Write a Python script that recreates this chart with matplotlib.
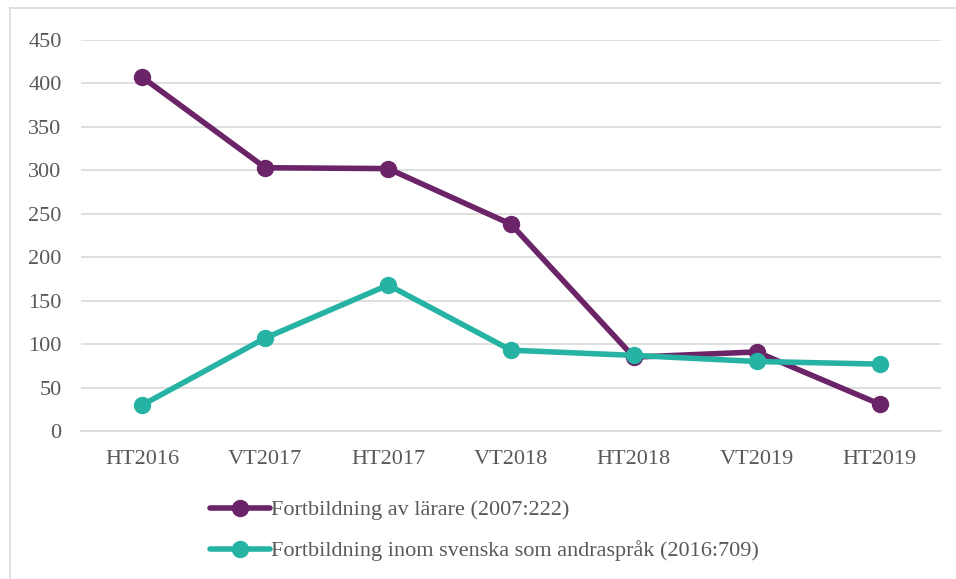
import matplotlib
matplotlib.use("Agg")
import matplotlib.pyplot as plt
from matplotlib.lines import Line2D

categories = ["HT2016", "VT2017", "HT2017", "VT2018", "HT2018", "VT2019", "HT2019"]
larare = [407, 303, 302, 238, 85, 91, 31]
sva = [30, 107, 168, 93, 87, 80, 77]
series_names = ["Fortbildning av lärare (2007:222)",
                "Fortbildning inom svenska som andraspråk (2016:709)"]
yticks = [0, 50, 100, 150, 200, 250, 300, 350, 400, 450]

plt.rcParams['font.family'] = ['Liberation Serif', 'DejaVu Serif']
W, H = 956, 579
fig = plt.figure(figsize=(W/100, H/100), dpi=100)
ax = fig.add_axes([81/W, 1 - 431/H, 860/W, 391/H])

purple = "#6B2468"
teal = "#26B3A4"
txt = "#595959"
fs = 16

x = list(range(len(categories)))
l1, = ax.plot(x, larare, color=purple, lw=4, marker='o', ms=11.5, solid_capstyle='round', zorder=3)
l2, = ax.plot(x, sva, color=teal, lw=4, marker='o', ms=11.5, solid_capstyle='round', zorder=3)

ax.set_xlim(-0.5, len(categories) - 0.5)
ax.set_ylim(0, 450)
ax.set_yticks(yticks)
ax.set_xticks(x)
ax.set_xticklabels(categories)
ax.yaxis.grid(True, color="#D9D9D9", lw=1.2)
ax.set_axisbelow(True)
for s in ["top", "right", "left"]:
    ax.spines[s].set_visible(False)
ax.spines["bottom"].set_color("#D9D9D9")
ax.spines["bottom"].set_linewidth(1.2)
ax.tick_params(axis='both', length=0, colors=txt, labelsize=fs)
ax.tick_params(axis='y', pad=14)
ax.tick_params(axis='x', pad=14)

# legend entries, stacked
for i, (ln, name) in enumerate(zip([l1, l2], series_names)):
    fig.legend([ln], [name], loc='center left',
               bbox_to_anchor=(210/W, 1 - [510, 551][i]/H),
               frameon=False, fontsize=fs, handlelength=2.7, handletextpad=0.05,
               labelcolor=txt, borderaxespad=0, borderpad=0)

# outer chart border (left and top visible)
fig.add_artist(Line2D([10/W, 10/W], [1 - 8/H, 0], color="#D9D9D9", lw=1.2, transform=fig.transFigure))
fig.add_artist(Line2D([10/W, 1], [1 - 8/H, 1 - 8/H], color="#D9D9D9", lw=1.2, transform=fig.transFigure))

fig.savefig("out.png", dpi=100)
